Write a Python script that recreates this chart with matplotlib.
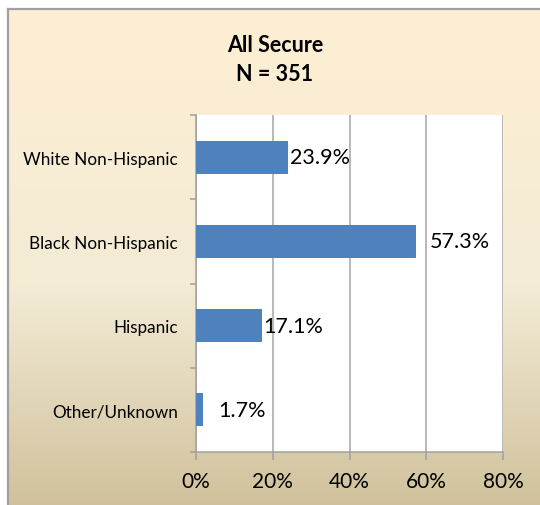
import matplotlib.pyplot as plt
import numpy as np
from matplotlib.colors import LinearSegmentedColormap

# Daten
categories = ['White Non-Hispanic', 'Black Non-Hispanic', 'Hispanic', 'Other/Unknown']
percent = [23.9, 57.3, 17.1, 1.7]
x_ticks = [0, 20, 40, 60, 80]
title = 'All Secure\nN = 351'

# Abstand der Beschriftung hinter dem Balken (Pixel), wie im Original
label_pad = [2, 14, 2, 16]

W, H = 540, 506
plt.rcParams['font.family'] = ['Lato', 'DejaVu Sans']
fig = plt.figure(figsize=(W / 100, H / 100), dpi=100)

# Hintergrund des Diagrammbereichs mit Verlauf
bg = fig.add_axes([8 / W, -0.02, 1 - 8 / W + 0.02, 1.02 - 10 / H], zorder=-1)
cmap = LinearSegmentedColormap.from_list(
    'parchment', [(0, '#FEEFD3'), (0.55, '#F3EBD5'), (1, '#CFC09A')])
grad = np.linspace(0, 1, 256).reshape(-1, 1)
bg.imshow(grad, aspect='auto', cmap=cmap, extent=[0, 1, 0, 1])
bg.set_xticks([])
bg.set_yticks([])
for s in ['right', 'bottom']:
    bg.spines[s].set_visible(False)
for s in ['left', 'top']:
    bg.spines[s].set_color('#A0A0A0')
    bg.spines[s].set_linewidth(1.6)

# Titel
fig.text(275 / W, 1 - 60 / H, title, ha='center', va='center',
         fontweight='bold', fontsize=15.5, linespacing=1.5)

# Plotbereich
ax = fig.add_axes([196 / W, (H - 453) / H, (503 - 196) / W, (453 - 116) / H])
ax.set_facecolor('white')
y = np.arange(len(categories))
ax.barh(y, percent, height=0.39, color='#4F81BD', zorder=3)

for i, v in enumerate(percent):
    ax.annotate(f'{v}%', (v, i), xytext=(label_pad[i] * 0.72, 0),
                textcoords='offset points', va='center', ha='left',
                fontsize=15.5, zorder=4)

ax.set_xlim(0, 80)
ax.set_ylim(len(categories) - 0.5, -0.5)
ax.set_xticks(x_ticks)
ax.set_xticklabels([f'{t}%' for t in x_ticks], fontsize=15)
ax.set_yticks(y)
ax.set_yticklabels(categories, fontsize=12.3)
ax.set_yticks(np.arange(len(categories) + 1) - 0.5, minor=True)

ax.tick_params(axis='y', which='major', length=0, pad=13)
ax.tick_params(axis='y', which='minor', length=4, width=1.1, color='#A0A0A0')
ax.tick_params(axis='x', length=6, width=1.1, color='#A0A0A0', pad=8)

ax.grid(axis='x', color='#A6A6A6', linewidth=1.1, zorder=0)
ax.set_axisbelow(True)
ax.spines['top'].set_visible(False)
ax.spines['right'].set_visible(False)
for s in ['left', 'bottom']:
    ax.spines[s].set_color('#A0A0A0')
    ax.spines[s].set_linewidth(1.1)

plt.savefig('out.png', dpi=100)
